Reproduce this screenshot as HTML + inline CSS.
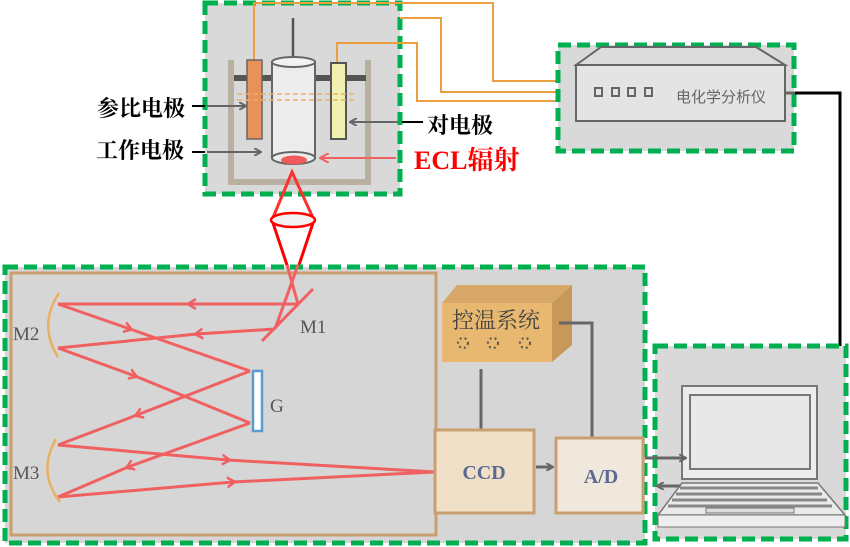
<!DOCTYPE html>
<html><head><meta charset="utf-8"><style>
html,body{margin:0;padding:0;background:#fff;}
svg{display:block;}
.cn{font-family:"Liberation Serif","Noto Serif CJK SC","Noto Sans CJK SC",serif;}
</style></head><body>
<svg width="850" height="547" viewBox="0 0 850 547" xmlns="http://www.w3.org/2000/svg">
<defs>
<marker id="ga" markerWidth="8" markerHeight="8" refX="7" refY="4" orient="auto" markerUnits="userSpaceOnUse"><path d="M0,0 L7,4 L0,8" fill="none" stroke="#666" stroke-width="2"/></marker>
<marker id="ra" markerWidth="10" markerHeight="10" refX="9" refY="5" orient="auto" markerUnits="userSpaceOnUse"><path d="M0,0 L9,5 L0,10" fill="none" stroke="#f06060" stroke-width="2"/></marker>
<marker id="rm" markerWidth="12" markerHeight="12" refX="6" refY="6" orient="auto" markerUnits="userSpaceOnUse"><path d="M0,1 L8,6 L0,11" fill="none" stroke="#f06060" stroke-width="2.5"/></marker>
</defs>
<!-- top cell box -->
<rect x="205" y="3" width="195" height="191" fill="#d9d9d9" stroke="#00b050" stroke-width="5" stroke-dasharray="13,6"/>
<g fill="none" stroke="#e8a040" stroke-width="2">
<polyline points="254,60 254,3 493,3 493,81 565,81"/>
<polyline points="400,18 441,18 441,92 565,92"/>
<polyline points="337,63 337,43 417,43 417,101 565,101"/>
</g>
<path d="M231,60 V182 H368 V60" fill="none" stroke="#b8b0a0" stroke-width="6"/>
<rect x="234" y="75" width="132" height="6" fill="#555"/>
<line x1="293" y1="18" x2="293" y2="62" stroke="#555" stroke-width="2.5"/>
<rect x="247" y="60" width="15" height="79" fill="#e8925a" stroke="#666" stroke-width="1.5"/>
<rect x="272" y="62" width="43" height="96" fill="#ececec" stroke="#666" stroke-width="2"/>
<ellipse cx="293.5" cy="62" rx="21.5" ry="5" fill="#f2f2f2" stroke="#666" stroke-width="2"/>
<ellipse cx="293.5" cy="158" rx="21.5" ry="6" fill="#ececec" stroke="#666" stroke-width="2"/>
<ellipse cx="294" cy="160" rx="13" ry="4.5" fill="#f05a5a"/>
<rect x="331" y="63" width="15" height="76" fill="#f0f0b0" stroke="#555" stroke-width="2"/>
<line x1="237" y1="94" x2="356" y2="94" stroke="#f0b060" stroke-width="1.5" stroke-dasharray="5,3"/>
<line x1="237" y1="100" x2="356" y2="100" stroke="#f0b060" stroke-width="1.5" stroke-dasharray="5,3"/>
<line x1="192" y1="106" x2="205" y2="106" stroke="#000" stroke-width="2"/>
<line x1="207" y1="106" x2="246" y2="106" stroke="#666" stroke-width="2" marker-end="url(#ga)"/>
<line x1="192" y1="152" x2="205" y2="152" stroke="#000" stroke-width="2"/>
<line x1="207" y1="152" x2="261" y2="152" stroke="#666" stroke-width="2" marker-end="url(#ga)"/>
<line x1="402" y1="122" x2="423" y2="122" stroke="#000" stroke-width="2"/>
<line x1="398" y1="122" x2="350" y2="122" stroke="#666" stroke-width="2" marker-end="url(#ga)"/>
<line x1="396" y1="158" x2="320" y2="158" stroke="#f06060" stroke-width="2" marker-end="url(#ra)"/>
<text x="97" y="116" class="cn" font-size="22" font-weight="bold" fill="#000">参比电极</text>
<text x="96" y="158" class="cn" font-size="22" font-weight="bold" fill="#000">工作电极</text>
<text x="427" y="133" class="cn" font-size="22" font-weight="bold" fill="#000">对电极</text>
<text x="414" y="169" class="cn" font-size="26" font-weight="bold" fill="#ff0000">ECL辐射</text>
<!-- lens -->
<polyline points="272,220 292,172 314,220" fill="none" stroke="#ff3030" stroke-width="3"/>
<line x1="272" y1="220" x2="288" y2="268" stroke="#ff0000" stroke-width="3"/>
<line x1="314" y1="220" x2="298" y2="268" stroke="#ff0000" stroke-width="3"/>
<ellipse cx="293" cy="220" rx="22" ry="7" fill="#f2f2f2" stroke="#ff0000" stroke-width="2.5"/>
<!-- analyzer -->
<rect x="558" y="45" width="236" height="106" fill="#d9d9d9" stroke="#00b050" stroke-width="5" stroke-dasharray="13,6"/>
<path d="M576,65 L601,47 L756,47 L785,65 Z" fill="#dcdcdc" stroke="#666" stroke-width="2"/>
<rect x="576" y="65" width="209" height="56" fill="#e4e4e4" stroke="#666" stroke-width="2"/>
<g fill="none" stroke="#666" stroke-width="2">
<rect x="595" y="88" width="7" height="8"/><rect x="612" y="88" width="7" height="8"/><rect x="628" y="88" width="7" height="8"/><rect x="645" y="88" width="7" height="8"/>
</g>
<text x="676" y="102" font-size="15" fill="#666" style="font-family:'Liberation Sans','Noto Sans CJK SC',sans-serif">电化学分析仪</text>
<line x1="785" y1="93" x2="795" y2="93" stroke="#666" stroke-width="3"/>
<polyline points="795,93 840,93 840,467 816,467" fill="none" stroke="#000" stroke-width="3"/>
<!-- bottom box -->
<rect x="5" y="267" width="640" height="276" fill="#d6d6d6" stroke="#00b050" stroke-width="5" stroke-dasharray="13,6"/>
<rect x="11" y="273" width="425" height="262" fill="#d6d6d6" stroke="#c8a070" stroke-width="3"/>
<g stroke="#f06060" stroke-width="3" fill="none">
<line x1="287" y1="265" x2="298" y2="304"/>
<line x1="298" y1="265" x2="275" y2="329"/>
<line x1="313" y1="289" x2="262" y2="341"/>
</g>
<g stroke="#f06060" stroke-width="3" fill="none" marker-mid="url(#rm)">
<polyline points="298,304 190,304 58,304"/>
<polyline points="275,329 197,334 58,348"/>
<polyline points="58,304 130,329 250,371"/>
<polyline points="58,348 135,376 250,423"/>
<polyline points="250,371 137,415 58,445"/>
<polyline points="250,423 128,467 58,497"/>
<polyline points="58,445 228,460 435,472"/>
<polyline points="58,497 233,482 435,472"/>
</g>
<path d="M59,293 Q38,325 58,357" fill="none" stroke="#e8b060" stroke-width="2.5"/>
<path d="M56,439 Q37,472 60,502" fill="none" stroke="#e8b060" stroke-width="2.5"/>
<rect x="253" y="371" width="9" height="60" fill="#fff" stroke="#5a9ad0" stroke-width="2.5"/>
<g font-family="Liberation Serif,serif" font-size="19" fill="#555">
<text x="13" y="340">M2</text><text x="300" y="333">M1</text><text x="270" y="412">G</text><text x="13" y="479">M3</text>
</g>
<!-- temp control -->
<path d="M442,303 L457,285 L572,285 L552,303 Z" fill="#d8a868"/>
<path d="M552,303 L572,285 L572,345 L552,362 Z" fill="#c89858"/>
<rect x="442" y="303" width="110" height="59" fill="#e8b870"/>
<text x="452" y="328" class="cn" font-size="22" fill="#444">控温系统</text>
<g fill="none" stroke="#555" stroke-width="2" stroke-dasharray="2,3">
<circle cx="463" cy="343" r="5"/><circle cx="493" cy="343" r="5"/><circle cx="525" cy="343" r="5"/>
</g>
<polyline points="559,323 592,323 592,438" fill="none" stroke="#666" stroke-width="3"/>
<line x1="481" y1="369" x2="481" y2="431" stroke="#666" stroke-width="3"/>
<rect x="435" y="430" width="99" height="83" fill="#f0e0c8" stroke="#c8a070" stroke-width="3"/>
<text x="484" y="479" text-anchor="middle" font-family="Liberation Serif,serif" font-weight="bold" font-size="20" fill="#5a6a90">CCD</text>
<line x1="536" y1="467" x2="553" y2="467" stroke="#666" stroke-width="3" marker-end="url(#ga)"/>
<rect x="556" y="438" width="87" height="75" fill="#f0e8dc" stroke="#c8a070" stroke-width="3"/>
<text x="601" y="483" text-anchor="middle" font-family="Liberation Serif,serif" font-weight="bold" font-size="20" fill="#5a6a90">A/D</text>
<!-- laptop box -->
<rect x="655" y="346" width="191" height="193" fill="#d9d9d9" stroke="#00b050" stroke-width="5" stroke-dasharray="13,6"/>
<rect x="682" y="386" width="135" height="93" fill="#ececec" stroke="#777" stroke-width="2"/>
<rect x="690" y="395" width="120" height="74" fill="#e8e8e8" stroke="#777" stroke-width="2"/>
<path d="M682,483 L818,483 L845,515 L658,515 Z" fill="#eaeaea" stroke="#777" stroke-width="1.5"/>
<g stroke="#888" stroke-width="3"><line x1="680" y1="488" x2="818" y2="488"/><line x1="676" y1="494" x2="822" y2="494"/><line x1="672" y1="500" x2="827" y2="500"/><line x1="668" y1="506" x2="832" y2="506"/></g>
<rect x="706" y="508" width="88" height="5" fill="#ddd" stroke="#777" stroke-width="1"/>
<rect x="658" y="515" width="187" height="12" fill="#eee" stroke="#777" stroke-width="1"/>
<line x1="645" y1="458" x2="686" y2="458" stroke="#666" stroke-width="3" marker-end="url(#ga)"/>
<line x1="680" y1="486" x2="657" y2="486" stroke="#666" stroke-width="3" marker-end="url(#ga)"/>
</svg>
</body></html>
